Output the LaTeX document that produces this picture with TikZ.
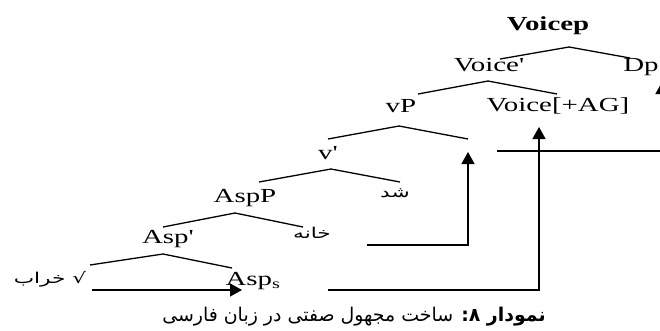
\documentclass[tikz,border=0pt]{standalone}
\usepackage{fontspec}
\setmainfont{Liberation Serif}
\newfontfamily\treefont[FakeStretch=1.45]{Liberation Serif}
\newfontfamily\arabicfont[Script=Arabic,FakeStretch=1.45]{DejaVu Sans}
\newfontfamily\captionfont[Script=Arabic,FakeStretch=1.0]{DejaVu Sans}
\usetikzlibrary{arrows.meta}
\TeXXeTstate=1
\begin{document}
\begin{tikzpicture}[x=1bp,y=-1bp,
  lbl/.style={anchor=base,inner sep=0,font=\treefont\fontsize{20}{22}\selectfont},
  lblb/.style={lbl,font=\treefont\bfseries\fontsize{20}{22}\selectfont},
  ar/.style={anchor=base,inner sep=0,font=\arabicfont\fontsize{15}{17}\selectfont},
  captext/.style={anchor=base,inner sep=0,font=\captionfont\fontsize{19}{21}\selectfont},
  branch/.style={line width=1.3bp},
  mv/.style={line width=1.4bp,-{Triangle[width=13bp,length=12bp]}}]
\useasboundingbox (0,0) rectangle (660,330);
% labels
\node[lblb] (voicep) at (548,30) {Voicep};
\node[lbl] (voicebar) at (489,71) {Voice'};
\node[lbl] (dp) at (641,71) {Dp};
\node[lbl] (vp) at (401,112) {vP};
\node[lbl] (voiceag) at (558,111) {Voice[+AG]};
\node[lbl] (vbar) at (328,159) {v'};
\node[lbl] (aspp) at (245,202) {AspP};
\node[ar] (shod) at (395,197) {\beginR شد\endR};
\node[lbl] (aspbar) at (168,243) {Asp'};
\node[ar] (khane) at (312,238) {\beginR خانه\endR};
\node[ar] (kharab) at (50,283) {\beginR خراب\endR{} √};
\node[lbl] (asps) at (253,285) {Asp\textsubscript{s}};
\node[captext] (caption) at (354,321) {\beginR\bfseries نمودار ۸:\mdseries{} ساخت مجهول صفتی در زبان فارسی\endR};
% branch points
\coordinate (a1) at (569,47); \coordinate (l1) at (500,59); \coordinate (r1) at (630,58);
\coordinate (a2) at (488,81); \coordinate (l2) at (418,94); \coordinate (r2) at (557,94);
\coordinate (a3) at (399,126); \coordinate (l3) at (328,139); \coordinate (r3) at (468,139);
\coordinate (a4) at (331,169); \coordinate (l4) at (259,182); \coordinate (r4) at (400,182);
\coordinate (a5) at (235,213); \coordinate (l5) at (163,227); \coordinate (r5) at (303,227);
\coordinate (a6) at (163,254); \coordinate (l6) at (90,265); \coordinate (r6) at (232,268);
\draw[branch] (l1) -- (a1) -- (r1);
\draw[branch] (l2) -- (a2) -- (r2);
\draw[branch] (l3) -- (a3) -- (r3);
\draw[branch] (l4) -- (a4) -- (r4);
\draw[branch] (l5) -- (a5) -- (r5);
\draw[branch] (l6) -- (a6) -- (r6);
% movement arrows
\coordinate (m1s) at (92,290); \coordinate (m1e) at (242,290);
\draw[mv] (m1s) -- (m1e);
\coordinate (m2s) at (367,245); \coordinate (m2c) at (468,245); \coordinate (m2e) at (468,152);
\draw[mv] (m2s) -- (m2c) -- (m2e);
\coordinate (m3s) at (328,290); \coordinate (m3c) at (539,290); \coordinate (m3e) at (539,127);
\draw[mv] (m3s) -- (m3c) -- (m3e);
\coordinate (m4s) at (497,151); \coordinate (m4c) at (662,151); \coordinate (m4e) at (662,82);
\draw[mv] (m4s) -- (m4c) -- (m4e);
\end{tikzpicture}
\end{document}
